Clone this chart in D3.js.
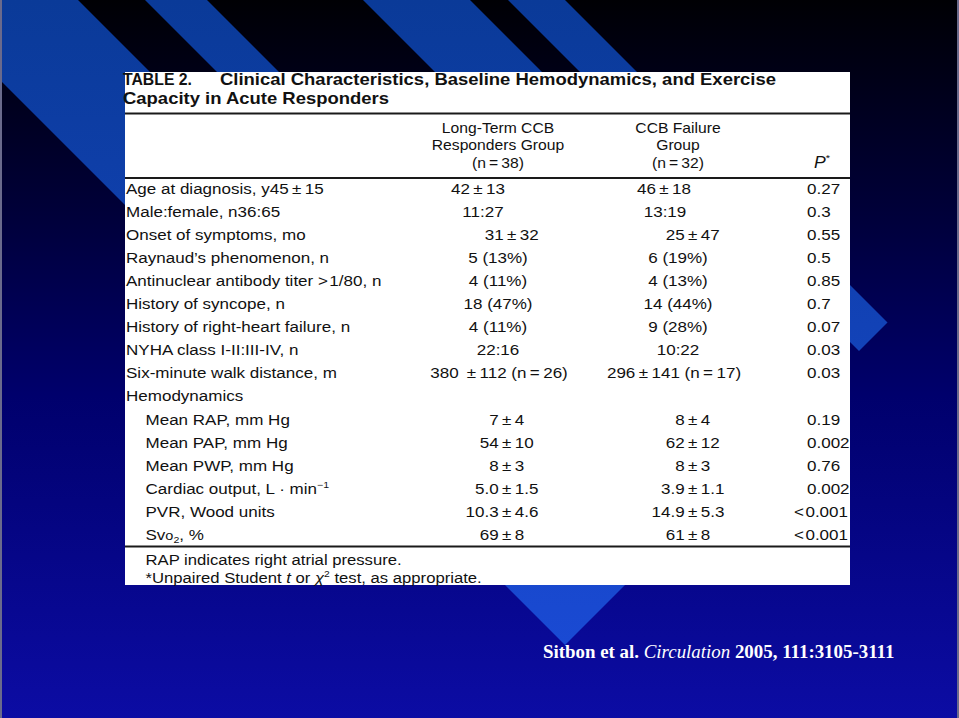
<!DOCTYPE html>
<html>
<head>
<meta charset="utf-8">
<script src="https://cdn.jsdelivr.net/npm/d3@7"></script>
<style>
html, body { margin: 0; padding: 0; background: #000; }
svg { display: block; }
</style>
</head>
<body>
<div id="slide"></div>
<script>
// table content
var titleHead = "TABLE 2.";
var titleLines = ["Clinical Characteristics, Baseline Hemodynamics, and Exercise", "Capacity in Acute Responders"];
var groupHeaders = [["Long-Term CCB", "Responders Group", "(n=38)"], ["CCB Failure", "Group", "(n=32)"]];
var pHeader = "/{P}^{*}";

var clinicalLabels = ["Age at diagnosis, y45±15", "Male:female, n36:65", "Onset of symptoms, mo",
    "Raynaud\u2019s phenomenon, n", "Antinuclear antibody titer >1/80, n", "History of syncope, n",
    "History of right-heart failure, n", "NYHA class I-II:III-IV, n", "Six-minute walk distance, m"];
var sectionLabel = "Hemodynamics";
var hemoLabels = ["Mean RAP, mm Hg", "Mean PAP, mm Hg", "Mean PWP, mm Hg",
    "Cardiac output, L \u00b7 min^{\u22121}", "PVR, Wood units", "Sv{o}_{2}, %"];

var longTermCCB = ["42±13", "11:27", "31±32", "5 (13%)", "4 (11%)", "18 (47%)", "4 (11%)", "22:16", "380 ±112 (n=26)",
    "7±4", "54±10", "8±3", "5.0±1.5", "10.3±4.6", "69±8"];
var ccbFailure = ["46±18", "13:19", "25±47", "6 (19%)", "4 (13%)", "14 (44%)", "9 (28%)", "10:22", "296±141 (n=17)",
    "8±4", "62±12", "8±3", "3.9±1.1", "14.9±5.3", "61±8"];
var pValues = ["0.27", "0.3", "0.55", "0.5", "0.85", "0.7", "0.07", "0.03", "0.03",
    "0.19", "0.002", "0.76", "0.002", "<0.001", "<0.001"];

var footnotes = ["RAP indicates right atrial pressure.", "*Unpaired Student /{t} or /{\u03c7}^{2} test, as appropriate."];
var citation = [["Sitbon et al. ", false], ["Circulation", true], [" 2005, 111:3105-3111", false]];

// slide background: diagonal bands, x - y at the top edge, all cut at x + y = bandEnd
var bands = [[-80, 78], [145, 207], [363, 470], [508, 565]];
var bandEnd = 1210;

var width = 959, height = 718;
var sans = "'Liberation Sans', Arial, Helvetica, sans-serif";
var bodySize = 14.5, bodySx = 1.175;

var svg = d3.select("#slide").append("svg")
    .attr("width", width)
    .attr("height", height);

var defs = svg.append("defs");
var bg = defs.append("linearGradient").attr("id", "bg")
    .attr("gradientUnits", "userSpaceOnUse")
    .attr("x1", 0).attr("y1", 0).attr("x2", 0).attr("y2", height);
[[0, "#000004"], [0.3, "#00003a"], [0.55, "#00006c"], [1, "#0c0ca4"]].forEach(function (s) {
    bg.append("stop").attr("offset", s[0]).attr("stop-color", s[1]);
});
var bandGrad = defs.append("linearGradient").attr("id", "band")
    .attr("gradientUnits", "userSpaceOnUse")
    .attr("x1", 0).attr("y1", 0).attr("x2", 0).attr("y2", 650);
bandGrad.append("stop").attr("offset", 0).attr("stop-color", "#0a3a98");
bandGrad.append("stop").attr("offset", 1).attr("stop-color", "#1a4ad4");

svg.append("rect").attr("width", width).attr("height", height).attr("fill", "url(#bg)");

svg.append("g").selectAll("polygon")
    .data(bands)
    .enter().append("polygon")
    .attr("fill", "url(#band)")
    .attr("points", function (d) {
        var a = d[0], b = d[1], e = bandEnd;
        return [[a, 0], [b, 0], [(e + b) / 2, (e - b) / 2], [(e + a) / 2, (e - a) / 2]].join(" ");
    });

// thin slide frame at the sides
svg.append("g").selectAll("line")
    .data([1, width - 1])
    .enter().append("line")
    .attr("x1", function (d) { return d; }).attr("x2", function (d) { return d; })
    .attr("y1", 0).attr("y2", height)
    .attr("stroke", "#6a6a8c").attr("stroke-width", 2);

// ---------- table ----------
var tbl = {x0: 125, x1: 850, y0: 72, y1: 585};
svg.append("rect")
    .attr("x", tbl.x0).attr("y", tbl.y0)
    .attr("width", tbl.x1 - tbl.x0).attr("height", tbl.y1 - tbl.y0)
    .attr("fill", "#fff");

var rows = clinicalLabels.map(function (l, i) {
    return {label: l, indent: false, v: [longTermCCB[i], ccbFailure[i], pValues[i]]};
}).concat([{label: sectionLabel, indent: false, v: null}])
  .concat(hemoLabels.map(function (l, i) {
    var k = i + clinicalLabels.length;
    return {label: l, indent: true, v: [longTermCCB[k], ccbFailure[k], pValues[k]]};
}));

var rowY = d3.scaleLinear().domain([0, rows.length - 1]).range([189, 534.75]);
var colX = d3.scaleOrdinal().domain([0, 1, 2]).range([498, 678, 807]);
var pmX = [507, 693];
var pmRows = [2, 10, 11, 12, 13, 14, 15];
var nudge = {0: [-20, -14], 1: [-15, -13], 2: [5, 0], 8: [1, -4]};

function spaced(s) {
    return s.replace(/±/g, "\u2009±\u2009").replace(/=/g, "\u2009=\u2009")
        .replace(/</g, "<\u200a").replace(/>/g, ">\u200a");
}

function rich(text, str, size) {
    var shift = 0;
    str.split(/(\^\{[^}]*\}|_\{[^}]*\}|\/\{[^}]*\}|\{[^}]*\})/).forEach(function (p) {
        if (!p) return;
        var s = text.append("tspan"), off = 0, content = p;
        if (p.indexOf("^{") === 0) { off = -size * 0.38; s.attr("font-size", size * 0.62); content = p.slice(2, -1); }
        else if (p.indexOf("_{") === 0) { off = size * 0.22; s.attr("font-size", size * 0.62); content = p.slice(2, -1); }
        else if (p.indexOf("/{") === 0) { s.attr("font-style", "italic"); content = p.slice(2, -1); }
        else if (p.indexOf("{") === 0) { s.attr("font-size", size * 0.85); content = p.slice(1, -1); }
        s.attr("dy", off - shift);
        shift = off;
        s.text(content);
    });
}

function addText(parent, x, y, str, o) {
    o = o || {};
    var size = o.size || bodySize;
    var g = parent.append("g")
        .attr("transform", "translate(" + x + "," + y + ") scale(" + (o.sx || bodySx) + ",1)");
    var t = g.append("text")
        .attr("x", o.dx || 0)
        .attr("font-family", o.family || sans)
        .attr("font-size", size)
        .attr("font-weight", o.weight || "normal")
        .attr("text-anchor", o.anchor || "start")
        .attr("fill", o.fill || "#111");
    rich(t, o.raw ? str : spaced(str), size);
    return t;
}

var T = svg.append("g");

// title
T.append("text").attr("x", 123).attr("y", 85)
    .attr("font-family", sans).attr("font-size", 16.5).attr("font-weight", "bold").attr("fill", "#111")
    .attr("textLength", 69).attr("lengthAdjust", "spacingAndGlyphs")
    .text(titleHead);
T.selectAll("text.title")
    .data(titleLines)
    .enter().append("text")
    .attr("class", "title")
    .attr("x", function (d, i) { return i === 0 ? 220 : 123; })
    .attr("y", function (d, i) { return 85 + i * 18.5; })
    .attr("font-family", sans).attr("font-size", 16.5).attr("font-weight", "bold").attr("fill", "#111")
    .attr("textLength", function (d, i) { return i === 0 ? 556 : 266; })
    .attr("lengthAdjust", "spacingAndGlyphs")
    .text(function (d) { return d; });

// rules
T.selectAll("line.rule")
    .data([113.5, 178, 546.5])
    .enter().append("line")
    .attr("class", "rule")
    .attr("x1", tbl.x0).attr("x2", tbl.x1)
    .attr("y1", function (d) { return d; }).attr("y2", function (d) { return d; })
    .attr("stroke", "#1a1a1a").attr("stroke-width", 1.8);

// column headers
var headY = d3.scaleLinear().domain([0, 2]).range([132.5, 167.5]);
groupHeaders.forEach(function (lines, c) {
    lines.forEach(function (l, j) {
        addText(T, colX(c), headY(j), l, {anchor: "middle", sx: 1.12, size: 14});
    });
});
addText(T, 814, headY(2), pHeader, {sx: 1.1, size: 16});

// body rows
rows.forEach(function (r, i) {
    var y = rowY(i) + 5;
    addText(T, r.indent ? 145.5 : 126, y, r.label);
    if (!r.v) return;
    [0, 1].forEach(function (c) {
        var s = r.v[c], n = nudge[i] ? nudge[i][c] : 0;
        if (pmRows.indexOf(i) >= 0 && s.indexOf("±") > 0) {
            // line the ± signs up in one column
            var parts = s.split("±");
            var ax = pmX[c] + n, half = bodySize * 0.292;
            addText(T, ax, y, parts[0] + "\u2009", {anchor: "end", dx: -half, raw: true});
            addText(T, ax, y, "±\u2009" + parts[1], {dx: -half, raw: true});
        } else {
            addText(T, colX(c) + n, y, s, {anchor: "middle"});
        }
    });
    var p = r.v[2];
    if (p.charAt(0) === "<") addText(T, 848, y, p, {anchor: "end"});
    else addText(T, colX(2), y, p);
});

// footnotes
footnotes.forEach(function (f, i) {
    addText(T, 145.5, 565 + i * 18, f, {sx: 1.15});
});

// citation
var cite = svg.append("text")
    .attr("x", 543).attr("y", 658)
    .attr("font-family", "'Liberation Serif', 'Times New Roman', Times, serif")
    .attr("font-size", 18.9)
    .attr("fill", "#fff");
cite.selectAll("tspan")
    .data(citation)
    .enter().append("tspan")
    .attr("font-style", function (d) { return d[1] ? "italic" : "normal"; })
    .attr("font-weight", function (d) { return d[1] ? "normal" : "bold"; })
    .text(function (d) { return d[0]; });
</script>
</body>
</html>
